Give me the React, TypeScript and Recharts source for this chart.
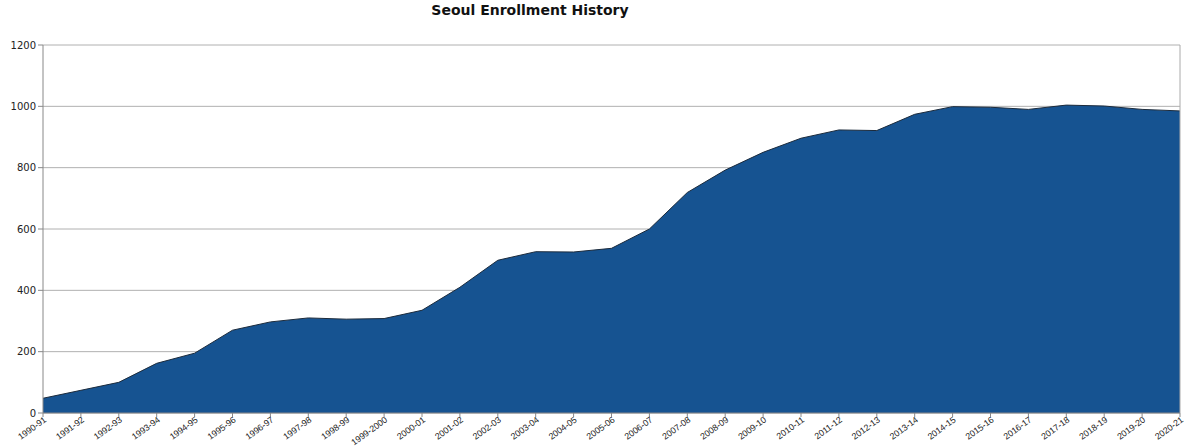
import React from 'react';
import { AreaChart, Area, XAxis, YAxis, CartesianGrid, ReferenceLine } from 'recharts';

const years = [
  '1990-91', '1991-92', '1992-93', '1993-94', '1994-95', '1995-96', '1996-97', '1997-98',
  '1998-99', '1999-2000', '2000-01', '2001-02', '2002-03', '2003-04', '2004-05', '2005-06',
  '2006-07', '2007-08', '2008-09', '2009-10', '2010-11', '2011-12', '2012-13', '2013-14',
  '2014-15', '2015-16', '2016-17', '2017-18', '2018-19', '2019-20', '2020-21',
];
const enrollment = [
  48, 74, 100, 162, 195, 270, 297, 310,
  306, 308, 335, 410, 498, 526, 525, 537,
  600, 719, 792, 850, 896, 923, 921, 974,
  999, 997, 990, 1004, 1001, 990, 985,
];
const yTicks = [0, 200, 400, 600, 800, 1000, 1200];

const data = years.map((y, i) => ({ year: y, value: enrollment[i] }));

const XTick = (props: any) => {
  const { x, y, payload } = props;
  return (
    <g transform={`translate(${x + 1},${y - 2})`}>
      <text
        x={0}
        y={0}
        dy={5}
        textAnchor="end"
        transform="rotate(-36)"
        fontSize={8.8}
        fontFamily="Liberation Sans"
        fill="#222"
      >
        {payload.value}
      </text>
    </g>
  );
};

export default function App() {
  return (
    <div style={{ position: 'absolute', left: 0, top: 0, width: 1187, height: 446, background: '#fff' }}>
      <div
        style={{
          position: 'absolute',
          left: 330,
          width: 400,
          top: 2,
          textAlign: 'center',
          fontFamily: 'DejaVu Sans',
          fontWeight: 'bold',
          fontSize: 14,
          color: '#111',
        }}
      >
        Seoul Enrollment History
      </div>
      <AreaChart
        width={1187}
        height={446}
        data={data}
        margin={{ top: 45, right: 7, left: 0, bottom: 0 }}
      >
        <CartesianGrid vertical={false} stroke="#b0b0b0" strokeWidth={1} />
        <XAxis
          dataKey="year"
          interval={0}
          height={33}
          tick={<XTick />}
          tickLine={{ stroke: '#888' }}
          tickSize={4}
          axisLine={{ stroke: '#888' }}
        />
        <YAxis
          domain={[0, 1200]}
          ticks={yTicks}
          width={43}
          tickSize={5}
          tickLine={{ stroke: '#888' }}
          axisLine={{ stroke: '#888' }}
          tick={{ fontSize: 10, fontFamily: 'DejaVu Sans', fill: '#222' }}
        />
        <ReferenceLine x={years[years.length - 1]} stroke="#aaa" />
        <Area
          type="linear"
          dataKey="value"
          stroke="#1c2b3c"
          strokeWidth={1}
          fill="#165391"
          fillOpacity={1}
          isAnimationActive={false}
        />
      </AreaChart>
    </div>
  );
}
